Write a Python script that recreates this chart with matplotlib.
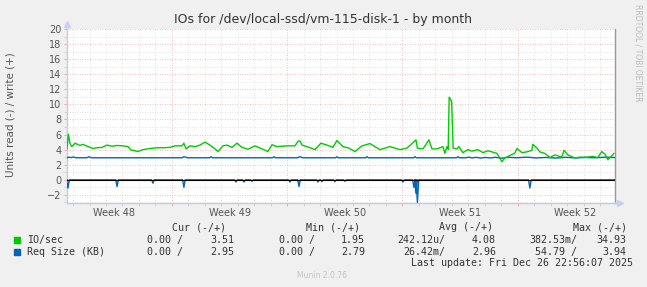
import numpy as np
import matplotlib
matplotlib.use("Agg")
import matplotlib.pyplot as plt
from matplotlib.lines import Line2D
import matplotlib.transforms as mtransforms

W, H = 647, 287

# time axis in days from the left edge of the graph
span_days = 33.28
week_starts = [6.37, 13.37, 20.37, 27.37]
week_names = ["Week 48", "Week 49", "Week 50", "Week 51", "Week 52"]

# IO/sec write (+)
io_days = [0.00, 0.08, 0.18, 0.29, 0.49, 0.79, 0.97, 1.28, 1.58, 1.82, 2.13, 2.43,
           2.73, 3.04, 3.40, 3.70, 3.89, 4.13, 4.31, 4.61, 5.04, 5.46, 5.83, 6.25,
           6.56, 6.98, 7.10, 7.23, 7.47, 7.77, 8.08, 8.38, 8.68, 8.93, 9.17, 9.47,
           9.71, 10.02, 10.32, 10.63, 10.99, 11.41, 11.84, 12.20, 12.45, 12.75, 13.36,
           13.84, 14.03, 14.15, 14.27, 14.63, 15.06, 15.42, 15.79, 16.15, 16.39, 16.76,
           17.12, 17.49, 17.91, 18.40, 19.00, 19.61, 20.22, 20.64, 21.01, 21.19, 21.28,
           21.62, 21.98, 22.16, 22.47, 22.83, 22.95, 23.07, 23.15, 23.21, 23.36, 23.45,
           23.68, 23.80, 24.04, 24.35, 24.59, 24.95, 25.26, 25.56, 26.11, 26.41, 26.59,
           26.78, 27.20, 27.32, 27.63, 27.93, 28.23, 28.29, 28.54, 28.72, 29.02, 29.33,
           29.63, 30.05, 30.18, 30.42, 30.84, 31.15, 31.57, 31.94, 32.24, 32.48, 32.67,
           32.85, 33.09, 33.21]
io_write = [4.1, 6.05, 4.8, 4.4, 4.85, 4.55, 4.7, 4.4, 4.15, 4.25, 4.3, 4.6,
            4.45, 4.55, 4.5, 4.4, 3.95, 3.85, 3.75, 4.0, 4.15, 4.25, 4.25, 4.3,
            4.5, 4.5, 4.85, 4.1, 4.5, 4.4, 4.6, 5.0, 4.6, 4.2, 3.75, 4.5,
            4.6, 4.3, 4.85, 4.3, 4.05, 4.5, 4.1, 3.75, 4.65, 4.4, 4.5,
            4.5, 5.1, 5.15, 4.6, 4.35, 4.0, 4.85, 4.6, 4.3, 5.2, 4.4,
            4.2, 3.75, 4.5, 4.8, 4.0, 4.4, 4.0, 4.2, 4.9, 5.3, 4.2,
            4.1, 5.3, 4.1, 4.1, 4.4, 3.5, 4.4, 4.0, 10.95, 10.4, 4.2,
            4.1, 4.4, 3.6, 4.0, 3.8, 4.0, 3.6, 3.85, 3.5, 2.4, 2.9,
            3.1, 3.55, 4.15, 3.6, 3.7, 3.9, 4.7, 4.2, 3.7, 3.5, 2.95,
            3.3, 3.0, 3.9, 3.3, 2.9, 3.0, 3.0, 3.1, 2.95, 3.75, 3.4,
            2.65, 3.2, 3.5]

# Req Size (KB) write (+)
rq_days = [0.00, 0.10, 0.25, 0.40, 0.55, 1.20, 1.34, 1.46, 6.98, 7.10, 7.20, 7.32,
           8.66, 8.74, 8.82, 12.49, 12.57, 12.65, 14.02, 14.10, 14.20, 14.30, 16.31,
           16.39, 16.47, 18.13, 18.21, 18.29, 21.05, 21.13, 21.21, 23.66, 23.74, 23.82,
           24.20, 24.40, 24.60, 24.85, 25.10, 25.40, 25.70, 26.00, 26.40, 26.80, 27.30,
           27.90, 28.50, 29.10, 29.70, 30.30, 30.90, 31.50, 32.10, 32.70, 33.27]
rq_write = [2.90, 3.00, 2.95, 3.02, 2.92, 2.92, 3.05, 2.92, 2.92, 3.05, 3.00, 2.92,
            2.92, 3.05, 2.92, 2.92, 3.05, 2.92, 2.92, 3.05, 3.02, 2.92, 2.92,
            3.05, 2.92, 2.92, 3.05, 2.92, 2.92, 3.05, 2.92, 2.92, 3.05, 2.92,
            2.92, 3.00, 2.90, 2.98, 2.88, 2.96, 2.90, 2.98, 2.86, 2.98, 2.92,
            3.00, 2.90, 2.96, 2.88, 2.98, 2.90, 2.96, 2.92, 3.00, 2.95]

# Req Size (KB) read (-), spikes below zero
rd_days = [0.06, 3.04, 5.22, 7.10, 10.26, 10.75, 11.23, 13.54, 14.09, 15.24, 15.48,
           16.27, 16.88, 20.40, 21.07, 21.19, 21.28, 28.11]
rd_read = [-1.1, -0.9, -0.45, -1.0, -0.3, -0.3, -0.2, -0.3, -0.9, -0.3, -0.25,
           -0.25, -0.2, -0.3, -1.0, -1.8, -3.0, -1.1]

# legend statistics
stat_heads = ["Cur (-/+)", "Min (-/+)", "Avg (-/+)", "Max (-/+)"]
io_stats = [("0.00 /", "3.51"), ("0.00 /", "1.95"), ("242.12u/", "4.08"), ("382.53m/", "34.93")]
rq_stats = [("0.00 /", "2.95"), ("0.00 /", "2.79"), ("26.42m/", "2.96"), ("54.79 /", "3.94")]

GREEN = "#00cc00"
BLUE = "#0066b3"
BG = "#f0f0f0"
AXC = "#c4cce8"

fig = plt.figure(figsize=(W / 100, H / 100), dpi=100, facecolor=BG)
L, R, T, B = 67, 615, 29, 203
ax = fig.add_axes([L / W, 1 - B / H, (R - L) / W, (B - T) / H], facecolor="white")

ax.set_xlim(0, span_days)
ax.set_ylim(-3.08, 20)

# grid
ax.set_yticks(np.arange(-2, 21, 2))
ax.set_yticks(np.arange(-3, 21, 1), minor=True)
ax.set_xticks(week_starts)
ax.set_xticks(np.arange(week_starts[0] - 6, span_days, 1.0), minor=True)
ax.set_xticklabels([])
ax.grid(True, which="minor", color="#dadada", linestyle=(0, (1, 2)), linewidth=0.6)
ax.grid(True, which="major", color="#eeaaaa", linestyle=(0, (1, 2)), linewidth=0.6)
ax.tick_params(axis="y", which="major", length=2, width=0.6, color="#e0a0a0",
               labelsize=7, labelcolor="#555555", pad=2)
ax.tick_params(axis="y", which="minor", length=2, width=0.6, color="#cccccc")
ax.tick_params(axis="x", which="major", length=2, width=0.6, color="#e0a0a0")
ax.tick_params(axis="x", which="minor", length=2, width=0.6, color="#cccccc")
ax.set_axisbelow(True)

ax.spines["top"].set_visible(False)
ax.spines["left"].set_color(AXC)
ax.spines["bottom"].set_color(AXC)
ax.spines["right"].set_color("#999999")
for s in ("left", "bottom", "right"):
    ax.spines[s].set_linewidth(1.0)

# series
ax.plot(rq_days, rq_write, color=BLUE, lw=1.0, zorder=3)
ax.plot(io_days, io_write, color=GREEN, lw=1.0, zorder=4)
rx, ry = [0.0], [0.0]
for d, v in zip(rd_days, rd_read):
    rx += [d - 0.08, d, d + 0.08]
    ry += [0.0, v, 0.0]
rx.append(span_days)
ry.append(0.0)
ax.plot(rx, ry, color=BLUE, lw=1.0, zorder=3)
ax.axhline(0, color="black", lw=0.8, zorder=5)

# week labels
trans = mtransforms.blended_transform_factory(ax.transData, fig.transFigure)
centers = [week_starts[0] - 3.5] + [w + 3.5 for w in week_starts]
for c, name in zip(centers, week_names):
    ax.text(c, 1 - 212.5 / H, name, transform=trans, ha="center", va="center",
            fontsize=7, color="#555555")

# axis arrows
fig.add_artist(Line2D([L / W, L / W], [1 - T / H, 1 - 24 / H], color=AXC, lw=1.0))
fig.add_artist(Line2D([R / W, 619 / W], [1 - B / H, 1 - B / H], color=AXC, lw=1.0))
fig.add_artist(Line2D([L / W], [1 - 24 / H], marker="^", markersize=4, color="#c8d0f4",
                      linestyle="none"))
fig.add_artist(Line2D([620 / W], [1 - B / H], marker=">", markersize=4, color="#c8d0f4",
                      linestyle="none"))

# texts
fig.text(323 / W, 1 - 19 / H, "IOs for /dev/local-ssd/vm-115-disk-1 - by month",
         ha="center", va="center", fontsize=9, color="#333333")
fig.text(11 / W, 1 - 115 / H, "Units read (-) / write (+)", rotation=90,
         ha="center", va="center", fontsize=7.5, color="#555555")
fig.text(638 / W, 1 - 53 / H, "RRDTOOL / TOBI OETIKER", rotation=270,
         ha="center", va="center", fontsize=5.5, color="#bbbbbb")

mono = dict(family="DejaVu Sans Mono", fontsize=7.2, color="#333333", va="center")
head_left = [172, 306, 439, 573]
for x, h in zip(head_left, stat_heads):
    fig.text(x / W, 1 - 227 / H, h, ha="left", **mono)

left_r = [183, 315, 445, 577]
right_r = [234, 365, 496, 626]
rows = [(240, GREEN, "IO/sec", io_stats), (252, BLUE, "Req Size (KB)", rq_stats)]
for y, col, name, stats in rows:
    fig.patches.append(plt.Rectangle((14 / W, 1 - (y + 3) / H), 6 / W, 6 / H,
                                     transform=fig.transFigure, color=col))
    fig.text(27 / W, 1 - y / H, name, ha="left", **mono)
    for (a, b), xl, xr in zip(stats, left_r, right_r):
        fig.text(xl / W, 1 - y / H, a, ha="right", **mono)
        fig.text(xr / W, 1 - y / H, b, ha="right", **mono)

fig.text(633 / W, 1 - 263 / H, "Last update: Fri Dec 26 22:56:07 2025", ha="right", **mono)
fig.text(322 / W, 1 - 276 / H, "Munin 2.0.76", ha="center", va="center",
         fontsize=5.5, color="#c4c4c4")

fig.savefig("out.png", dpi=100, facecolor=BG)
